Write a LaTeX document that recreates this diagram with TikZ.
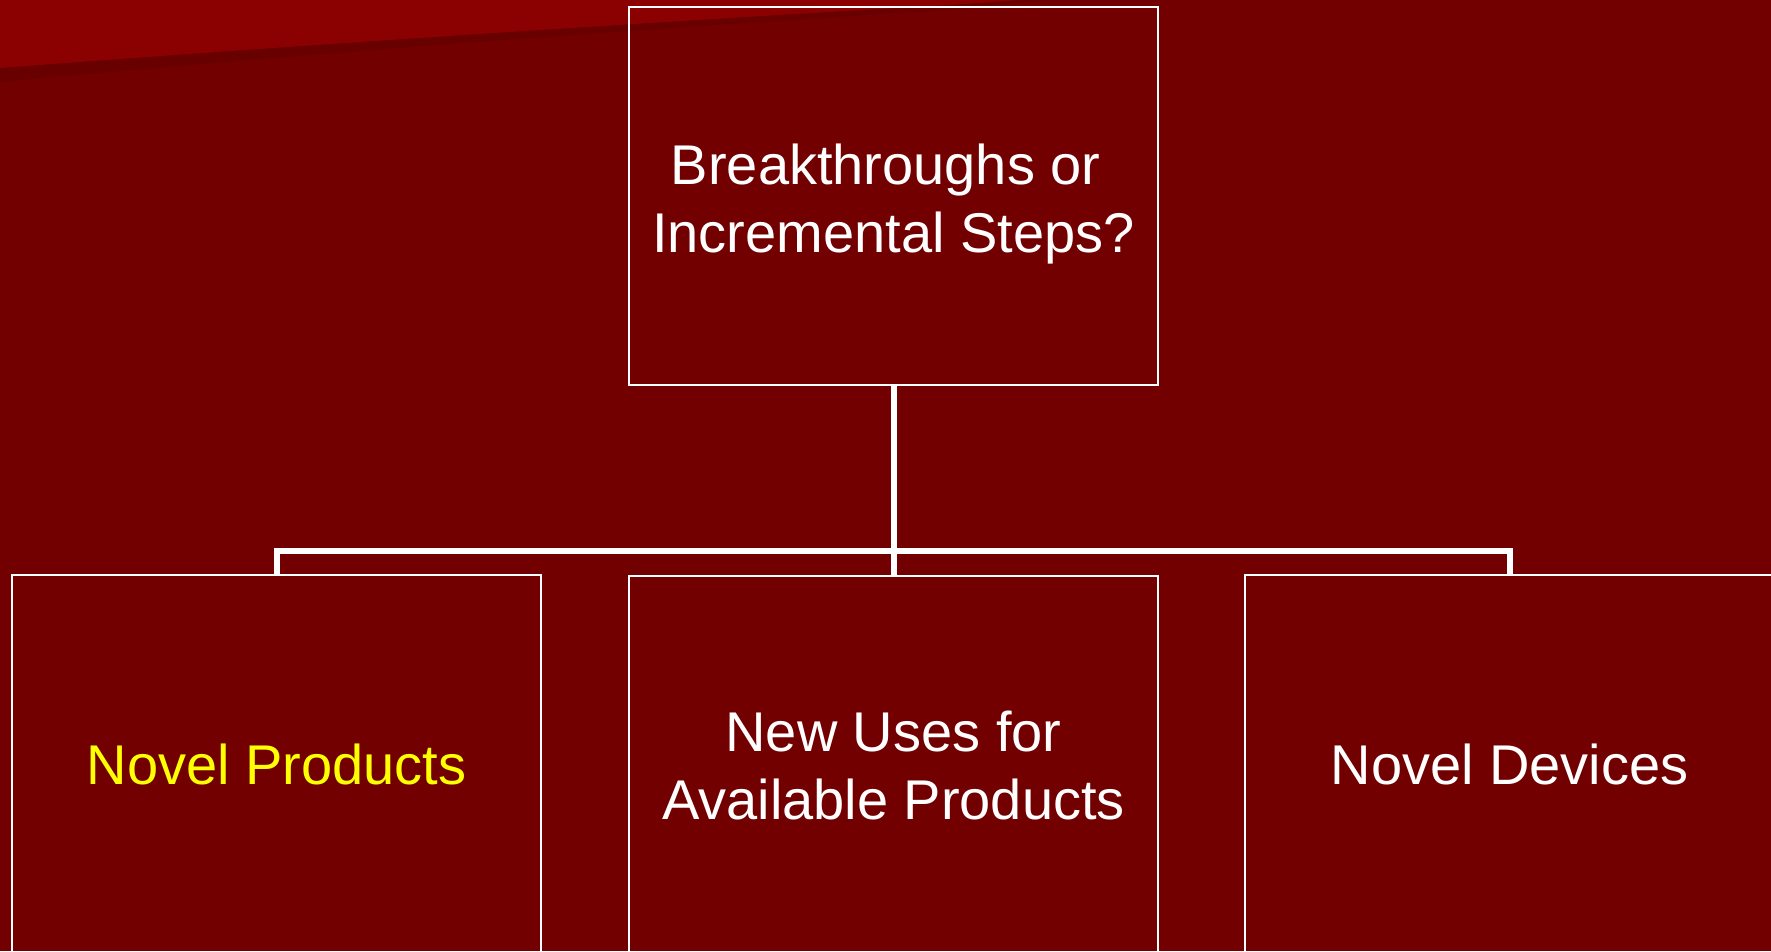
\documentclass[tikz,border=0pt]{standalone}
\usepackage{fontspec}
\setmainfont{Liberation Sans}
\definecolor{bgred}{RGB}{115,0,0}
\definecolor{lightred}{RGB}{139,0,0}
\definecolor{shadowred}{RGB}{104,0,0}
\definecolor{hiyellow}{RGB}{255,255,0}
\begin{document}
\begin{tikzpicture}[x=1pt,y=-1pt,
  boxfont/.style={font=\fontsize{56}{68}\selectfont},
  box/.style={draw=white,line width=1.6pt,minimum width=529pt,minimum height=378pt,
    inner sep=0pt,align=center,text=white,boxfont},
  lbl/.style={inner sep=0pt,align=center,text=white,boxfont},
  conn/.style={draw=white,line width=6pt,line join=miter}]
\useasboundingbox (0,0) rectangle (1771,951);
\fill[bgred] (0,0) rectangle (1771,951);
% lighter top-left wedge with shadow band
\fill[shadowred] (0,0) -- (0,82) .. controls (300,54) and (650,28) .. (950,10) -- (1050,0) -- cycle;
\fill[lightred] (0,0) -- (0,68) .. controls (300,45) and (650,22) .. (950,5) -- (1020,0) -- cycle;
% nodes
\node[box] (top) at (893.5,196) {};
\node[lbl] (toptext) at ([yshift=-8pt]top.center) {Breakthroughs or\kern0.278em\\Incremental Steps?};
\node[box,text=hiyellow] (left) at (276.5,764) {Novel Products};
\node[box] (mid) at (893.5,765) {New Uses for\\Available Products};
\node[box] (right) at (1509.5,764) {Novel Devices};
\coordinate (bus) at (893.5,551);
% connectors
\draw[conn] (top.south) -- (bus);
\draw[conn] (bus) -- (mid.north);
\draw[conn] (left.north) |- (bus) -| (right.north);
\end{tikzpicture}
\end{document}
